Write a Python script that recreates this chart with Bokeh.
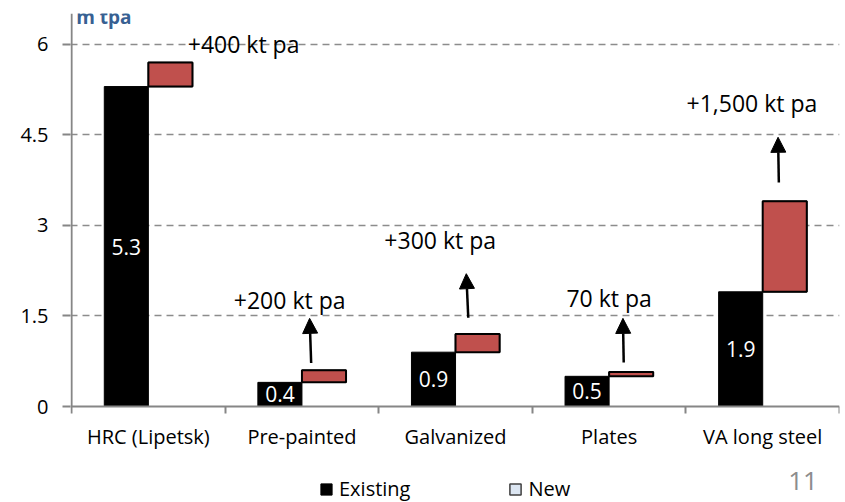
import numpy as np
from bokeh.plotting import figure
from bokeh.models import (ColumnDataSource, Range1d, FixedTicker, Arrow, NormalHead,
                          Label, Legend, LegendItem)
from bokeh.core.properties import value
from bokeh.embed import file_html
from bokeh.resources import INLINE

# ---- data ----
categories = ["HRC (Lipetsk)", "Pre-painted", "Galvanized", "Plates", "VA long steel"]
existing = [5.3, 0.4, 0.9, 0.5, 1.9]
new = [0.4, 0.2, 0.3, 0.07, 1.5]
existing_labels = ["5.3", "0.4", "0.9", "0.5", "1.9"]
increment_labels = ["+400 kt pa", "+200 kt pa", "+300 kt pa", "70 kt pa", "+1,500 kt pa"]
y_ticks = [0, 1.5, 3, 4.5, 6]
y_tick_labels = ["0", "1.5", "3", "4.5", "6"]
legend_labels = ["Existing", "New"]
unit_label = "m tpa"
page_number = "11"

# annotation placement (offset from category centre, value axis)
inc_label_dx = [0.62, -0.08, -0.10, 0.00, -0.07]
inc_label_y = [6.0, 1.76, 2.75, 1.79, 5.02]
arrow_idx = [1, 2, 3, 4]
arrow_tail_dx = [0.06, 0.083, 0.095, 0.105]
arrow_tip_dx = [0.05, 0.07, 0.09, 0.10]
arrow_tail_y = [0.72, 1.47, 0.73, 3.71]
arrow_tip_y = [1.46, 2.20, 1.46, 4.46]

FONT = "Open Sans"
BAR_W = 0.287
Y_TOP = 6.51
Y_BOTTOM = -1.59   # frame extends below the category axis to hold legend / page number

n = len(categories)
centers = np.arange(n) + 0.5
existing_a = np.array(existing)
new_a = np.array(new)

p = figure(width=841, height=502, x_range=Range1d(-0.007, n), y_range=Range1d(Y_BOTTOM, Y_TOP),
           output_backend="svg", toolbar_location=None,
           min_border_left=70, min_border_right=2, min_border_top=13, min_border_bottom=0)
p.outline_line_color = None
p.background_fill_color = "white"

# bars
src_exist = ColumnDataSource(dict(x=centers - BAR_W / 2, top=existing_a, y=existing_a / 2,
                                  lab=existing_labels))
r_exist = p.vbar(x="x", top="top", bottom=0, width=BAR_W, source=src_exist,
                 fill_color="black", line_color="black")
src_new = ColumnDataSource(dict(x=centers + BAR_W / 2, bottom=existing_a, top=existing_a + new_a))
# legend swatch renderer for "New" (light-blue in the reference legend), hidden beneath the red bars
r_new_legend = p.vbar(x="x", top="top", bottom="bottom", width=BAR_W, source=src_new,
                      fill_color="#dce6f2", line_color="#404040", line_width=1.5)
p.vbar(x="x", top="top", bottom="bottom", width=BAR_W, source=src_new,
       fill_color="#c0504d", line_color="black", line_width=2)

p.text(x="x", y="y", text="lab", source=src_exist, text_color="white",
       text_font=value(FONT), text_font_size="21px", text_align="center", text_baseline="middle")

# increment labels
src_inc = ColumnDataSource(dict(x=centers + np.array(inc_label_dx), y=inc_label_y, t=increment_labels))
p.text(x="x", y="y", text="t", source=src_inc, text_color="black",
       text_font=value(FONT), text_font_size="23px", text_align="center", text_baseline="middle")

# arrows
ai = np.array(arrow_idx)
src_arr = ColumnDataSource(dict(x0=centers[ai] + np.array(arrow_tail_dx), y0=arrow_tail_y,
                                x1=centers[ai] + np.array(arrow_tip_dx), y1=arrow_tip_y))
p.add_layout(Arrow(end=NormalHead(size=15, fill_color="black", line_color="black"),
                   x_start="x0", y_start="y0", x_end="x1", y_end="y1", source=src_arr,
                   line_width=2.5, line_color="black"))

# category axis, pinned at value 0
xa = p.xaxis[0]
xa.fixed_location = 0
xa.ticker = FixedTicker(ticks=list(centers), minor_ticks=list(range(n + 1)))
xa.major_label_overrides = {float(c): cat for c, cat in zip(centers, categories)}
xa.major_tick_out = 0
xa.major_tick_in = 0
xa.minor_tick_out = 7
xa.minor_tick_in = 0
xa.minor_tick_line_color = "#868686"
xa.minor_tick_line_width = 2
xa.axis_line_color = "#868686"
xa.axis_line_width = 2
xa.major_label_text_font = FONT
xa.major_label_text_font_size = "20px"
xa.major_label_text_color = "black"
xa.major_label_standoff = 9

# value axis (its line is drawn only from 0 upwards)
ya = p.yaxis[0]
ya.ticker = FixedTicker(ticks=y_ticks)
ya.major_label_overrides = {t: l for t, l in zip(y_ticks, y_tick_labels)}
ya.major_tick_out = 8
ya.major_tick_in = 0
ya.minor_tick_line_color = None
ya.major_tick_line_color = "#868686"
ya.major_tick_line_width = 2
ya.axis_line_color = None
ya.major_label_text_font = FONT
ya.major_label_text_font_size = "20px"
ya.major_label_text_color = "black"
ya.major_label_standoff = 14
p.segment(x0=[0], y0=[0], x1=[0], y1=[Y_TOP], line_color="#868686", line_width=2)

p.xgrid.visible = False
p.ygrid.ticker = FixedTicker(ticks=y_ticks[1:])
p.ygrid.grid_line_color = "#8c8c8c"
p.ygrid.grid_line_dash = "7 5"
p.ygrid.grid_line_width = 1.5

# unit label
p.add_layout(Label(x=0.03, y=6.45, text=unit_label, text_font=FONT, text_font_style="bold",
                   text_font_size="19px", text_color="#376092", text_baseline="middle"))

# page number
p.add_layout(Label(x=4.763, y=-1.24, text=page_number, text_font=FONT, text_font_size="26px",
                   text_color="#8c8c8c", text_align="center", text_baseline="middle"))

# legend
legend = Legend(items=[LegendItem(label=legend_labels[0], renderers=[r_exist]),
                       LegendItem(label=legend_labels[1], renderers=[r_new_legend])],
                location=(249, 0), orientation="horizontal",
                glyph_width=14, glyph_height=14, label_standoff=6, spacing=98,
                padding=0, margin=0, border_line_color=None, background_fill_alpha=0,
                label_text_font=FONT, label_text_font_size="20px", label_text_color="black")
p.add_layout(legend)

open("out.html", "w").write(file_html(p, INLINE))
